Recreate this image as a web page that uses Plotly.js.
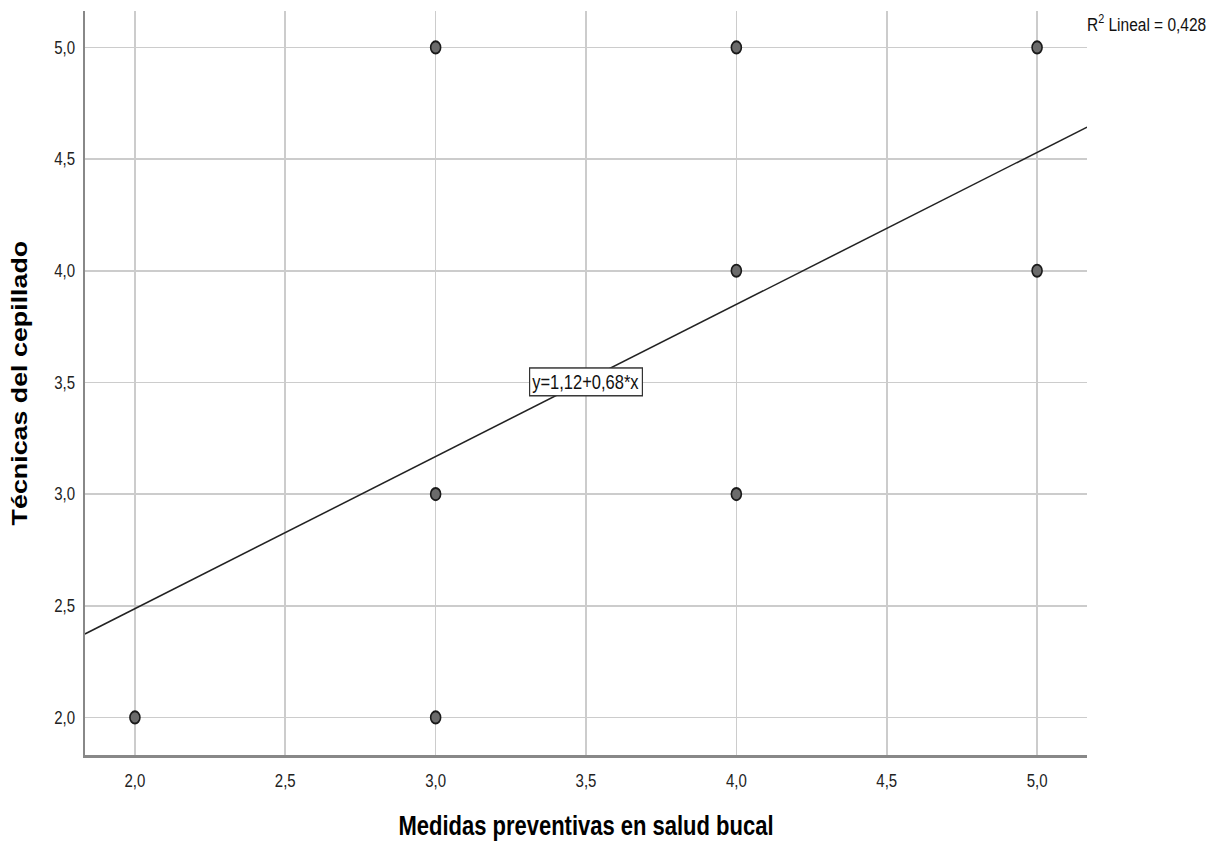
<!DOCTYPE html>
<html>
<head>
<meta charset="utf-8">
<script src="https://cdn.plot.ly/plotly-3.0.1.min.js"></script>
<style>
html,body{margin:0;padding:0;background:#fff;overflow:hidden}
#wrap{width:1224px;height:845px;overflow:hidden}
#chart{width:1224px;height:693px;transform:scale(1,1.22);transform-origin:0 0}
</style>
</head>
<body>
<div id="wrap"><div id="chart"></div></div>
<script>
// Observed points (Medidas preventivas, Técnicas del cepillado)
const medidas = [2, 3, 3, 3, 4, 4, 4, 5, 5];
const tecnicas = [2, 5, 3, 2, 5, 4, 3, 5, 4];
// Fit line
const intercept = 1.125;
const slope = 0.681;
const fitLabel = "y=1,12+0,68*x";
const r2Label = "R<sup>2</sup> Lineal = 0,428";
const xRange = [1.834, 5.166];
const yRange = [1.831, 5.163];
const tickVals = [2.0, 2.5, 3.0, 3.5, 4.0, 4.5, 5.0];
const tickText = ["2,0", "2,5", "3,0", "3,5", "4,0", "4,5", "5,0"];

const sans = "'Liberation Sans', Arial, sans-serif";

const fitX = xRange.slice();
const fitY = fitX.map(x => intercept + slope * x);

const traces = [
  {x: fitX, y: fitY, mode: 'lines', type: 'scatter', line: {color: '#222', width: 1.3}, hoverinfo: 'skip'},
  {x: medidas, y: tecnicas, mode: 'markers', type: 'scatter',
   marker: {size: 10, color: '#6b6b6b', line: {color: '#1a1a1a', width: 1.6}}}
];

const layout = {
  width: 1224, height: 693,
  margin: {l: 85, r: 137, t: 9, b: 74},
  paper_bgcolor: '#fff', plot_bgcolor: '#fff',
  showlegend: false,
  font: {family: sans, color: '#222', size: 15},
  xaxis: {
    range: xRange, tickvals: tickVals, ticktext: tickText,
    showgrid: true, gridcolor: '#cccccc', gridwidth: 1.6,
    zeroline: false, showline: true, linecolor: '#888', linewidth: 2,
    ticks: 'outside', ticklen: 6, tickcolor: 'rgba(0,0,0,0)',
    tickfont: {family: sans, size: 15, color: '#222'},
    title: {text: 'Medidas preventivas en salud bucal', standoff: 22,
            font: {family: sans, size: 22, color: '#000', weight: 'bold'}}
  },
  yaxis: {
    range: yRange, tickvals: tickVals, ticktext: tickText,
    showgrid: true, gridcolor: '#cccccc', gridwidth: 1.4,
    zeroline: false, showline: true, linecolor: '#888', linewidth: 2,
    ticks: 'outside', ticklen: 5, tickcolor: 'rgba(0,0,0,0)',
    tickfont: {family: sans, size: 15, color: '#222'},
    title: {text: 'Técnicas del cepillado', standoff: 20,
            font: {family: sans, size: 22, color: '#000', weight: 'bold'}}
  },
  annotations: [
    {x: 3.5, y: 3.5, xref: 'x', yref: 'y', text: fitLabel, showarrow: false,
     font: {family: sans, size: 16.5, color: '#111'}, bgcolor: '#fff',
     bordercolor: '#333', borderwidth: 1.2, borderpad: 2},
    {x: 1.0, y: 1.0, xref: 'paper', yref: 'paper', xanchor: 'left', yanchor: 'top',
     xshift: -2, yshift: 2, text: r2Label, showarrow: false, align: 'left',
     font: {family: sans, size: 15.5, color: '#111'}}
  ]
};

Plotly.newPlot('chart', traces, layout, {displayModeBar: false, staticPlot: true});
</script>
</body>
</html>
